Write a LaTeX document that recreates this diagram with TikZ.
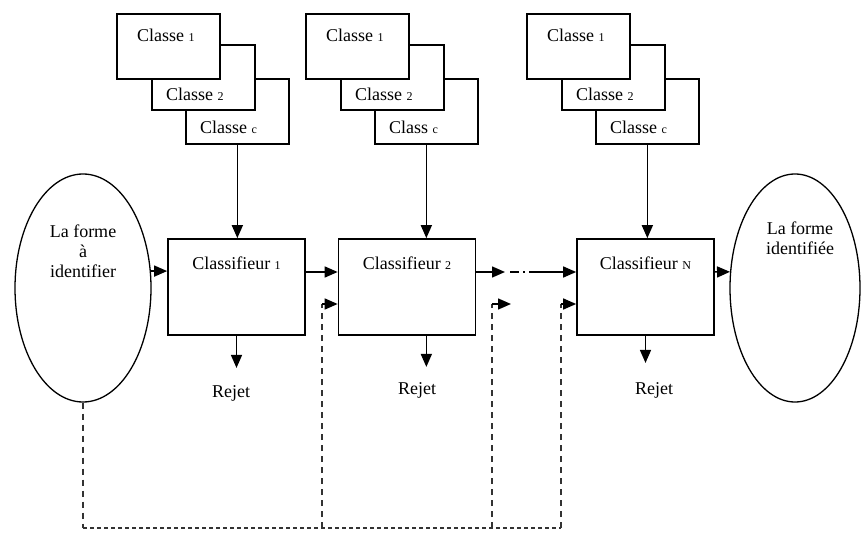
\documentclass[tikz,border=0pt]{standalone}
\usepackage{fontspec}
\setmainfont{Liberation Serif}
\usetikzlibrary{arrows.meta,shapes.geometric}
\newcommand\ix[1]{{\fontsize{12}{13}\selectfont #1}}
\begin{document}
\begin{tikzpicture}[x=1pt,y=-1pt,
  ln/.style={line width=1.5pt},
  arr/.style={line width=1.5pt,-{Triangle[length=13pt,width=11pt]}},
  cls/.style={draw,line width=1.7pt,fill=white,minimum width=103pt,minimum height=65pt,inner sep=0pt,anchor=north west},
  clf/.style={draw,line width=1.7pt,minimum width=137pt,minimum height=96pt,inner sep=0pt},
  txt/.style={font=\fontsize{18}{20}\selectfont,inner sep=0pt},
  fbv/.style={line width=1.5pt,draw=black!80,dash pattern=on 6pt off 5pt},
  fbh/.style={line width=1.5pt,draw=black!80,dash pattern=on 4pt off 3pt},
  ell/.style={draw,ellipse,line width=1.3pt,inner sep=0pt}]
\useasboundingbox (0,0) rectangle (861,534);

% class stacks
\foreach \n/\x/\w in {a/116/Classe, b/305/Class, c/526/Classe}{
  \node[cls] (\n3) at (\x+69,78) {};
  \node[cls] (\n2) at (\x+35,44) {};
  \node[cls] (\n1) at (\x,13) {};
  \node[txt,anchor=west] (\n1t) at (\x+21,35) {Classe \ix{1}};
  \node[txt,anchor=west] (\n2t) at (\x+50,94) {Classe \ix{2}};
  \node[txt,anchor=west] (\n3t) at (\x+84,127) {\w\ \ix{c}};
}

% classifiers
\node[clf] (C1) at (236.5,287) {};
\node[clf] (C2) at (407,287) {};
\node[clf] (CN) at (645.5,287) {};
\node[txt] (C1t) at (236.5,263) {Classifieur \ix{1}};
\node[txt] (C2t) at (407,263) {Classifieur \ix{2}};
\node[txt] (CNt) at (645.5,263) {Classifieur \ix{N}};

% ellipses
\node[ell,minimum width=136pt,minimum height=228pt] (L) at (83,288) {};
\node[txt,align=center] (Lt) at (83,251) {\baselineskip=25.5pt La forme\\à\\identifier};
\node[ell,minimum width=130pt,minimum height=228pt] (R) at (795,288) {};
\node[txt,align=center] (Rt) at (800,238) {\baselineskip=24pt La forme\\identifiée};

% stacks to classifiers
\draw[arr] (a3.south) -- (a3.south |- C1.north);
\draw[arr] (b3.south) -- (b3.south |- C2.north);
\draw[arr] (c3.south) -- (c3.south |- CN.north);

% main chain
\coordinate (my) at (0,272);
\coordinate (d1) at (505,272);
\coordinate (d2) at (510,272);
\coordinate (d3) at (538,272);
\draw[arr] (L.14) -- (L.14 -| C1.west);
\draw[arr] (C1.east |- my) -- (C2.west |- my);
\draw[arr] (C2.east |- my) -- (d1);
\draw[ln,dash pattern=on 9pt off 4pt on 2pt off 4pt on 9pt off 0pt] (d2) -- (d3);
\draw[arr] (d3) -- (CN.west |- my);
\draw[arr] (CN.east |- my) -- (R.166);

% rejects
\node[txt] (r1) at (231,393) {Rejet};
\node[txt] (r2) at (417,390) {Rejet};
\node[txt] (rN) at (654,390) {Rejet};
\draw[arr,shorten >=17pt] (C1.south) -- (C1.south |- r1.north);
\draw[arr,shorten >=15pt] (b3.south |- C2.south) -- (b3.south |- r2.north);
\draw[arr,shorten >=19pt] (CN.south) -- (CN.south |- rN.north);

% feedback
\coordinate (fy) at (0,304);
\coordinate (v1) at (322,528);
\coordinate (v2) at (492,528);
\coordinate (v3) at (561,528);
\coordinate (e2) at (511,304);
\draw[fbv] (L.south) -- (L.south |- v1);
\draw[fbh] (L.south |- v1) -- (v3);
\draw[fbv] (v1) -- (v1 |- fy);
\draw[fbv] (v2) -- (v2 |- fy);
\draw[fbv] (v3) -- (v3 |- fy);
\draw[arr] (v1 |- fy) -- (C2.west |- fy);
\draw[arr] (v2 |- fy) -- (e2);
\draw[arr] (v3 |- fy) -- (CN.west |- fy);
\end{tikzpicture}
\end{document}
